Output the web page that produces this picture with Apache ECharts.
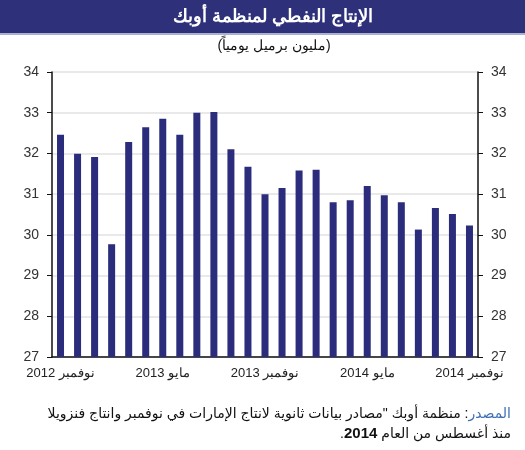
<!DOCTYPE html>
<html dir="rtl">
<head>
    <meta charset="utf-8">
    <title>OPEC</title>
    <script src="https://cdn.jsdelivr.net/npm/echarts@6/dist/echarts.min.js"></script>
    <style>
        body { margin: 0; }
        #main { width: 525px; height: 450px; position: relative; }
        #src {
            position: absolute; top: 404px; right: 14px; width: 505px;
            font-family: Arial, "DejaVu Sans", sans-serif; font-size: 14px; line-height: 19px;
            color: #111; text-align: right; white-space: nowrap;
        }
        #src .lbl { color: #3c6fb5; }
        #src b { font-size: 15px; }
    </style>
</head>
<body>
    <div id="main"></div>
    <div id="src"><span class="lbl">المصدر</span>: منظمة أوبك "مصادر بيانات ثانوية لانتاج الإمارات في نوفمبر وانتاج فنزويلا<br>منذ أغسطس من العام <b>2014</b>.</div>
    <script type="text/javascript">
        // الأشهر: نوفمبر 2012 - نوفمبر 2014
        var months = ['نوفمبر 2012', 'ديسمبر 2012', 'يناير 2013', 'فبراير 2013', 'مارس 2013', 'أبريل 2013',
            'مايو 2013', 'يونيو 2013', 'يوليو 2013', 'أغسطس 2013', 'سبتمبر 2013', 'أكتوبر 2013',
            'نوفمبر 2013', 'ديسمبر 2013', 'يناير 2014', 'فبراير 2014', 'مارس 2014', 'أبريل 2014',
            'مايو 2014', 'يونيو 2014', 'يوليو 2014', 'أغسطس 2014', 'سبتمبر 2014', 'أكتوبر 2014',
            'نوفمبر 2014'];
        // مليون برميل يومياً
        var production = [32.46, 31.99, 31.91, 29.77, 32.28, 32.64, 32.85, 32.46, 33.0, 33.02, 32.1, 31.67,
            31.0, 31.15, 31.58, 31.6, 30.8, 30.85, 31.2, 30.97, 30.8, 30.13, 30.66, 30.51, 30.23];

        var titleText = 'الإنتاج النفطي لمنظمة أوبك';
        var subText = '(مليون برميل يومياً)';

        var myChart = echarts.init(document.getElementById('main'));

        var yAxisBase = {
            type: 'value', min: 27, max: 34, interval: 1,
            axisLine: { show: true, lineStyle: { color: '#111', width: 1.5 } },
            axisTick: { show: true, length: 5, lineStyle: { color: '#111' } },
            axisLabel: { color: '#333', fontSize: 14, fontFamily: 'Arial', margin: 13 }
        };

        var option = {
            animation: false,
            backgroundColor: '#fff',
            graphic: [
                { type: 'rect', left: 0, top: 0, shape: { width: 525, height: 33 }, style: { fill: '#2e3079' } },
                { type: 'rect', left: 0, top: 33, shape: { width: 525, height: 2 }, style: { fill: '#aab0d0' } },
                {
                    type: 'text', x: 273, y: 17,
                    style: {
                        text: titleText, fill: '#fff', font: 'bold 18px Arial',
                        textAlign: 'center', textVerticalAlign: 'middle'
                    }
                },
                {
                    type: 'text', x: 274, y: 46,
                    style: {
                        text: subText, fill: '#111', font: '14px Arial',
                        textAlign: 'center', textVerticalAlign: 'middle'
                    }
                }
            ],
            grid: { left: 52, right: 47, top: 72, bottom: 93 },
            xAxis: {
                type: 'category', data: months,
                axisLine: { lineStyle: { color: '#111', width: 1.5 } },
                axisTick: { interval: 0, length: 5, lineStyle: { color: '#111' } },
                axisLabel: { interval: 5, color: '#222', fontSize: 13, fontFamily: 'Arial', margin: 10 }
            },
            yAxis: [
                Object.assign({}, yAxisBase, {
                    position: 'left',
                    splitLine: { show: true, lineStyle: { color: '#e2e2e2', width: 1.5 } }
                }),
                Object.assign({}, yAxisBase, {
                    position: 'right',
                    splitLine: { show: false }
                })
            ],
            series: [
                {
                    type: 'bar', data: production, barWidth: 7,
                    itemStyle: { color: '#2b2d7c' }
                }
            ]
        };

        myChart.setOption(option);
    </script>
</body>
</html>
